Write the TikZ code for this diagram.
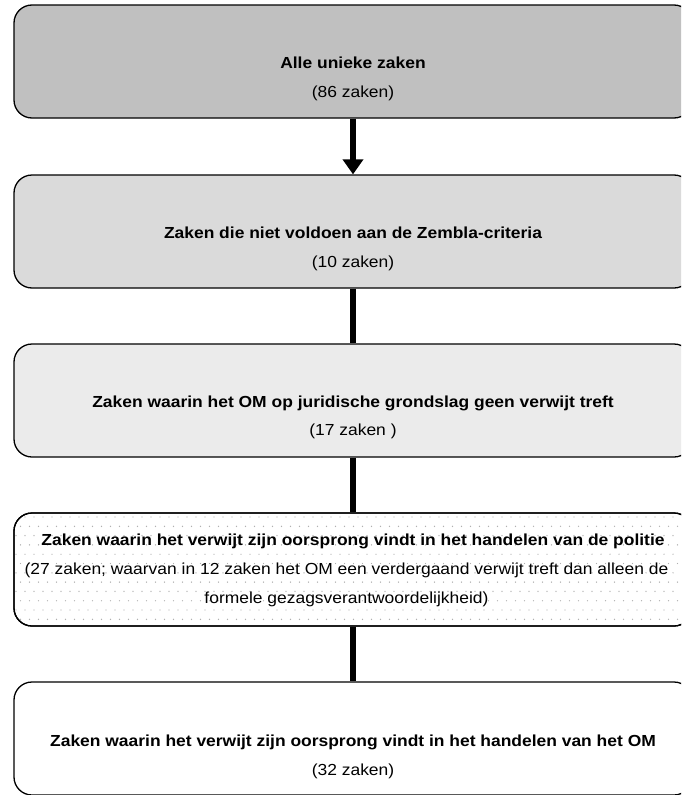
\documentclass[tikz,border=0pt]{standalone}
\usepackage{fontspec}
\setmainfont{Liberation Sans}[FakeStretch=1.09]
\definecolor{fillA}{HTML}{C0C0C0}
\definecolor{fillB}{HTML}{DADADA}
\definecolor{fillC}{HTML}{EBEBEB}
\definecolor{dotcol}{HTML}{B0B0B0}
\usetikzlibrary{arrows.meta}
\tikzset{
  stagebox/.style={draw=black, line width=1.3pt, rounded corners=18pt,
    minimum width=678pt, minimum height=113pt, inner sep=0pt},
  lbl/.style={anchor=base, inner sep=0pt, font=\fontsize{16}{19}\selectfont},
  lblb/.style={lbl, font=\fontsize{16}{19}\selectfont\bfseries},
  conn/.style={line width=6pt},
  arrowconn/.style={line width=6pt, -{Triangle[width=20pt,length=15pt]}}
}
\begin{document}
\begin{tikzpicture}[x=1pt,y=-1pt]
\useasboundingbox (0,0) rectangle (681,795);
\begin{scope}
\clip (0,0) rectangle (681,795);
% boxes
\node[stagebox, fill=fillA] (b1) at (353,61.5) {};
\node[stagebox, fill=fillB] (b2) at (353,231.5) {};
\node[stagebox, fill=fillC] (b3) at (353,400.5) {};
\node[stagebox, fill=white] (b4) at (353,569.5) {};
\node[stagebox, fill=white] (b5) at (353,738.5) {};
% dotted pattern in box 4
\begin{scope}
\clip[rounded corners=18pt] (14,513) rectangle (692,626);
\foreach \r in {0,...,12} {
  \pgfmathsetmacro{\yy}{517+\r*9.3}
  \pgfmathsetmacro{\off}{mod(\r,2)*4.5}
  \foreach \c in {0,...,75} {
    \fill[dotcol] ({16+\off+\c*9},\yy) circle (0.7pt);
  }
}
\end{scope}
\node[stagebox] (b4r) at (353,569.5) {};
\end{scope}
% connectors
\draw[arrowconn] (b1.south) -- (b2.north);
\draw[conn] (b2.south) -- (b3.north);
\draw[conn] (b3.south) -- (b4.north);
\draw[conn] (b4.south) -- (b5.north);
% texts
\node[lblb] (t1a) at (353,68) {Alle unieke zaken};
\node[lbl] (t1b) at (353,97) {(86 zaken)};
\node[lblb] (t2a) at (353,238) {Zaken die niet voldoen aan de Zembla-criteria};
\node[lbl] (t2b) at (353,267) {(10 zaken)};
\node[lblb] (t3a) at (353,407) {Zaken waarin het OM op juridische grondslag geen verwijt treft};
\node[lbl] (t3b) at (353,435) {(17 zaken )};
\node[lblb] (t4a) at (353,545.5) {Zaken waarin het verwijt zijn oorsprong vindt in het handelen van de politie};
\node[lbl] (t4b) at (346.5,574.5) {(27 zaken; waarvan in 12 zaken het OM een verdergaand verwijt treft dan alleen de};
\node[lbl] (t4c) at (346.5,603) {formele gezagsverantwoordelijkheid)};
\node[lblb] (t5a) at (353,746) {Zaken waarin het verwijt zijn oorsprong vindt in het handelen van het OM};
\node[lbl] (t5b) at (353,775) {(32 zaken)};
\end{tikzpicture}
\end{document}
